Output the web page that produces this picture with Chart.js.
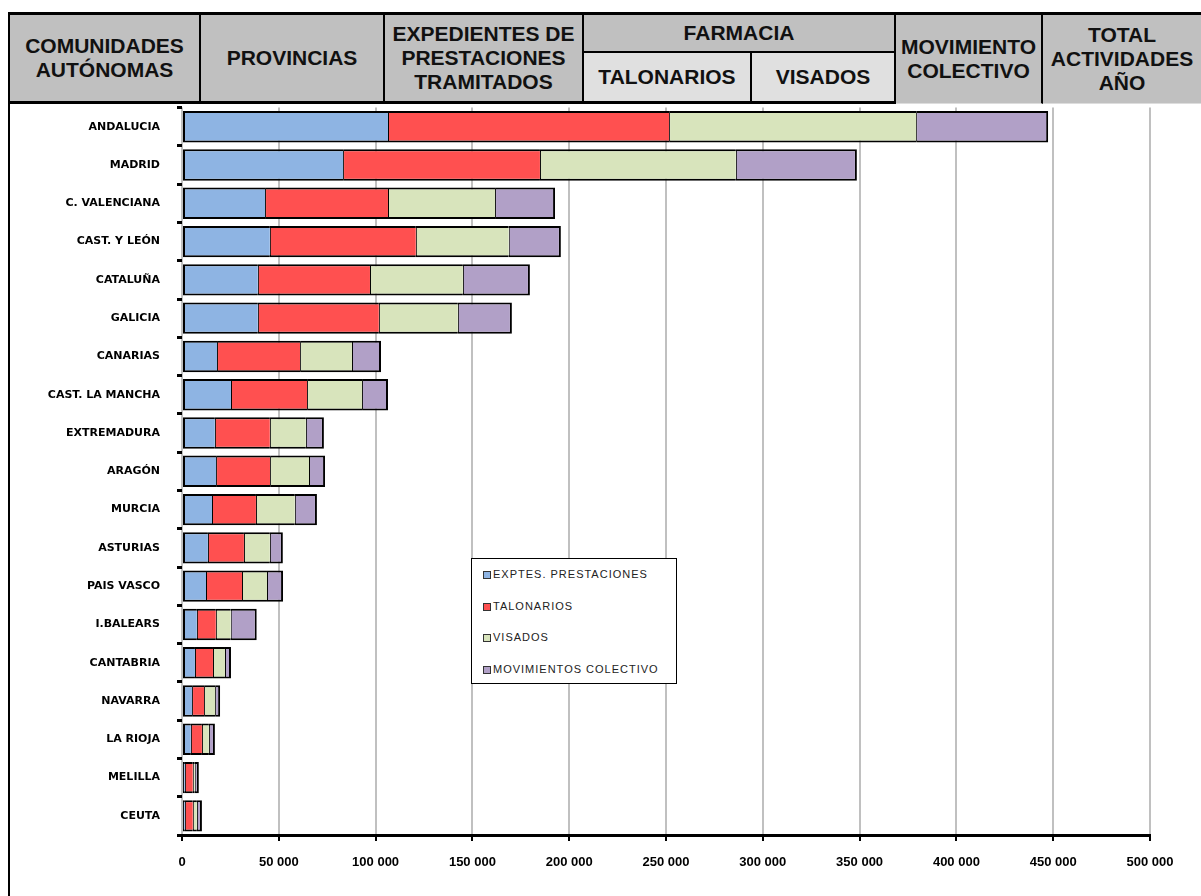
<!DOCTYPE html>
<html>
<head>
<meta charset="utf-8">
<script src="https://cdn.jsdelivr.net/npm/chart.js@4.4.1/dist/chart.umd.min.js"></script>
<style>
    body { margin: 0; width: 1201px; height: 896px; background: #fff; position: relative; overflow: hidden;
           font-family: 'Liberation Sans', Arial, sans-serif; }
    .cel { position: absolute; box-sizing: border-box; background: #c0c0c0; display: flex; align-items: center;
           justify-content: center; text-align: center; font-weight: bold; font-size: 21px; line-height: 24px;
           color: #111; border-right: 2px solid #000; z-index: 2; }
    .alta { top: 12px; height: 92px; border-top: 3px solid #000; border-bottom: 3px solid #000; }
    .clara { background: #e0e0e0; }
    #marco { position: absolute; left: 8px; top: 12px; width: 2px; height: 884px; background: #000; z-index: 2; }
    /* el lienzo empieza más arriba para compensar el relleno superior que añade Chart.js */
    #zona { position: absolute; left: 10px; top: 84px; width: 1191px; height: 812px; z-index: 1; }
    #leyenda { position: absolute; left: 471px; top: 558px; width: 206px; height: 126px; box-sizing: border-box;
               border: 1px solid #000; background: #fff; padding: 9px 0 0 11px; z-index: 3; }
    .item { height: 31.5px; font-size: 11px; color: #222; letter-spacing: 1px; display: flex; align-items: flex-start; }
    .cuadro { width: 6px; height: 6px; border: 1px solid #333; margin: 3px 2px 0 0; flex: none; }
</style>
</head>
<body>
<div id="zona"><canvas id="grafico"></canvas></div>
<div id="marco"></div>
<div class="cel alta" style="left:10px;width:191px;">COMUNIDADES<br>AUTÓNOMAS</div>
<div class="cel alta" style="left:201px;width:184px;">PROVINCIAS</div>
<div class="cel alta" style="left:385px;width:199px;">EXPEDIENTES DE<br>PRESTACIONES<br>TRAMITADOS</div>
<div class="cel" style="left:584px;top:12px;width:312px;height:41px;border-top:3px solid #000;border-bottom:2px solid #000;">FARMACIA</div>
<div class="cel clara" style="left:584px;top:53px;width:168px;height:51px;border-bottom:3px solid #000;">TALONARIOS</div>
<div class="cel clara" style="left:752px;top:53px;width:144px;height:51px;border-bottom:3px solid #000;">VISADOS</div>
<div class="cel alta" style="left:896px;width:147px;border-bottom:1px solid #ddd;">MOVIMIENTO<br>COLECTIVO</div>
<div class="cel alta" style="left:1043px;width:160px;border-bottom:1px solid #ddd;">TOTAL<br>ACTIVIDADES<br>AÑO</div>
<div id="leyenda"></div>

<script>
// Comunidades (de arriba abajo)
const comunidades = ['ANDALUCIA', 'MADRID', 'C. VALENCIANA', 'CAST. Y LEÓN', 'CATALUÑA', 'GALICIA', 'CANARIAS',
    'CAST. LA MANCHA', 'EXTREMADURA', 'ARAGÓN', 'MURCIA', 'ASTURIAS', 'PAIS VASCO', 'I.BALEARS', 'CANTABRIA',
    'NAVARRA', 'LA RIOJA', 'MELILLA', 'CEUTA'];

// Valores estimados a partir del gráfico
const expedientes = [106400, 83200, 42900, 45400, 39200, 39200, 18100, 25300, 17000, 17600, 15500, 13400, 12400, 7700, 6700, 5200, 4600, 1500, 1500];
const talonarios  = [145200, 101700, 63500, 75400, 57900, 62500, 42900, 39300, 28400, 27900, 22700, 18600, 18600, 9800, 9300, 6200, 5700, 4100, 4100];
const visados     = [127600, 101200, 55300, 48000, 48000, 40800, 26800, 28400, 18600, 20100, 20100, 13400, 12900, 7700, 6200, 5700, 3600, 1000, 2100];
const movimientos = [68200, 62500, 31000, 26900, 34600, 27900, 15000, 13400, 9300, 8300, 11400, 6700, 8300, 13400, 3100, 2600, 3100, 2100, 2600];

const nombresSeries = ['EXPTES. PRESTACIONES', 'TALONARIOS', 'VISADOS', 'MOVIMIENTOS COLECTIVO'];
const coloresSeries = ['#8eb4e3', '#ff5050', '#d8e4bc', '#b1a0c7'];
const ticksX = [0, 50000, 100000, 150000, 200000, 250000, 300000, 350000, 400000, 450000, 500000];

const series = [expedientes, talonarios, visados, movimientos];

function miles(v) {
    return String(v).replace(/\B(?=(\d{3})+(?!\d))/g, ' ');
}

// Borde grueso por fuera de la barra apilada y fino entre segmentos
function bordes(ctx) {
    const ultimo = ctx.datasetIndex === series.length - 1;
    return { top: 2, bottom: 2, left: ctx.datasetIndex === 0 ? 2 : 1, right: ultimo ? 2 : 0 };
}

const chart = new Chart(document.getElementById('grafico'), {
    type: 'bar',
    data: {
        labels: comunidades,
        datasets: series.map(function(datos, i) {
            return {
                label: nombresSeries[i],
                data: datos,
                backgroundColor: coloresSeries[i],
                borderColor: '#000',
                borderWidth: bordes,
                borderSkipped: false,
                categoryPercentage: 0.82,
                barPercentage: 1
            };
        })
    },
    options: {
        indexAxis: 'y',
        responsive: true,
        maintainAspectRatio: false,
        animation: false,
        layout: { padding: { left: 0, right: 51, top: 3, bottom: 0 } },
        plugins: {
            legend: { display: false },
            tooltip: { enabled: false }
        },
        scales: {
            x: {
                stacked: true,
                min: 0,
                max: 500000,
                afterBuildTicks: function(scale) {
                    scale.ticks = ticksX.map(v => ({ value: v }));
                },
                afterFit: function(scale) { scale.height = 61; },
                grid: { color: '#c0c0c0', lineWidth: 2, tickColor: '#000', tickLength: 6, tickWidth: 2 },
                border: { color: '#000', width: 3 },
                ticks: {
                    callback: v => miles(v),
                    color: '#000',
                    padding: 14,
                    maxRotation: 0,
                    font: { family: "'Liberation Sans Narrow', 'Liberation Sans', Arial", size: 13, weight: 'bold' }
                }
            },
            y: {
                stacked: true,
                afterFit: function(scale) { scale.width = 172; },
                grid: { drawOnChartArea: false, tickColor: '#000', tickLength: 5, tickWidth: 3 },
                border: { display: false },
                ticks: {
                    color: '#000',
                    padding: 17,
                    font: { family: "'DejaVu Sans', 'Liberation Sans', Arial", size: 11, weight: 'bold' }
                }
            }
        }
    }
});

// Leyenda dentro del área del gráfico
const leyenda = document.getElementById('leyenda');
chart.data.datasets.forEach(function(ds) {
    const fila = document.createElement('div');
    fila.className = 'item';
    fila.innerHTML = '<span class="cuadro" style="background:' + ds.backgroundColor + '"></span>' + ds.label;
    leyenda.appendChild(fila);
});
</script>
</body>
</html>
